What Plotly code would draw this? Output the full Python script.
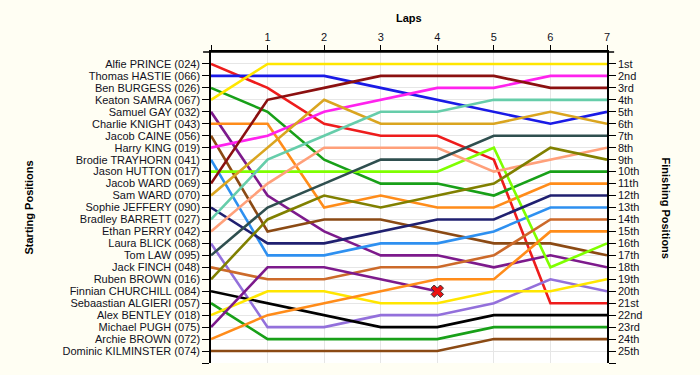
import plotly.graph_objects as go

laps = [0, 1, 2, 3, 4, 5, 6, 7]

drivers = [
    "Alfie PRINCE (024)", "Thomas HASTIE (066)", "Ben BURGESS (026)", "Keaton SAMRA (067)",
    "Samuel GAY (032)", "Charlie KNIGHT (043)", "Jacob CAINE (056)", "Harry KING (019)",
    "Brodie TRAYHORN (041)", "Jason HUTTON (017)", "Jacob WARD (069)", "Sam WARD (070)",
    "Sophie JEFFERY (090)", "Bradley BARRETT (027)", "Ethan PERRY (042)", "Laura BLICK (068)",
    "Tom LAW (095)", "Jack FINCH (048)", "Ruben BROWN (016)", "Finnian CHURCHILL (084)",
    "Sebaastian ALGIERI (057)", "Alex BENTLEY (018)", "Michael PUGH (075)", "Archie BROWN (072)",
    "Dominic KILMINSTER (074)",
]

positions = [
    [1, 3, 6, 7, 7, 9, 21, 21],
    [2, 2, 2, 3, 4, 5, 6, 5],
    [3, 5, 9, 11, 11, 12, 10, 10],
    [4, 1, 1, 1, 1, 1, 1, 1],
    [5, 12, 15, 17, 17, 18, 17, 18],
    [6, 6, 13, 12, 13, 13, 11, 11],
    [7, 15, 14, 14, 15, 16, 16, 17],
    [8, 7, 5, 4, 3, 3, 2, 2],
    [9, 17, 17, 16, 16, 15, 13, 13],
    [10, 10, 10, 10, 10, 8, 18, 16],
    [11, 4, 3, 2, 2, 2, 3, 3],
    [12, 8, 4, 6, 6, 6, 5, 6],
    [13, 16, 16, 15, 14, 14, 12, 12],
    [14, 9, 7, 5, 5, 4, 4, 4],
    [15, 11, 8, 8, 8, 10, 9, 8],
    [16, 23, 23, 22, 22, 21, 19, 20],
    [17, 13, 11, 9, 9, 7, 7, 7],
    [18, 19, 19, 18, 18, 17, 14, 14],
    [19, 14, 12, 13, 12, 11, 8, 9],
    [20, 21, 22, 23, 23, 22, 22, 22],
    [21, 24, 24, 24, 24, 23, 23, 23],
    [22, 20, 20, 21, 21, 20, 20, 19],
    [23, 18, 18, 19, 20],
    [24, 22, 21, 20, 19, 19, 15, 15],
    [25, 25, 25, 25, 25, 24, 24, 24],
]

retired = [False] * 25
retired[22] = True

colors = [
    "#EE1C1C", "#1A1AE6", "#18A018", "#FFE600", "#7D1A8C", "#FF8C1A", "#8B4A14", "#FF22EE",
    "#2E90F0", "#7FFF00", "#8B1010", "#DAA520", "#202070", "#66CDAA", "#FFA07A", "#9370DB",
    "#2F4F4F", "#CC6A2A", "#808000", "#000000", "#18A018", "#FFE600", "#7D1A8C", "#FF8C1A",
    "#8B4A14",
]

finish_labels = ["1st", "2nd", "3rd"] + [f"{i}th" for i in range(4, 21)] + ["21st", "22nd", "23rd", "24th", "25th"]

PAPER = "#FFFEF3"

fig = go.Figure()
for name, pos, col, ret in zip(drivers, positions, colors, retired):
    fig.add_trace(go.Scatter(
        x=laps[:len(pos)], y=pos, mode="lines", name=name,
        line=dict(color=col, width=2.6), hoverinfo="skip", showlegend=False,
    ))
    if ret:
        fig.add_trace(go.Scatter(
            x=[laps[len(pos) - 1]], y=[pos[-1]], mode="markers",
            marker=dict(symbol="x", size=11, color="#EE1111", line=dict(color="#333333", width=1)),
            hoverinfo="skip", showlegend=False,
        ))

# dummy trace for right axis
fig.add_trace(go.Scatter(x=[laps[-1]], y=[1], yaxis="y2", mode="markers",
                         marker=dict(opacity=0), hoverinfo="skip", showlegend=False))

font = dict(family="Liberation Sans, Arial, sans-serif", size=11, color="#111122")

fig.update_layout(
    width=700, height=375,
    margin=dict(l=211, r=93, t=52, b=12, autoexpand=False),
    paper_bgcolor=PAPER,
    plot_bgcolor="#FFFFFF",
    font=font,
    xaxis=dict(
        side="top", range=[0, 7], tickvals=laps, ticktext=[""] + [str(v) for v in laps[1:]],
        showline=True, linecolor="#000000", linewidth=1.5, ticks="outside", ticklen=5,
        tickcolor="#000000", showgrid=True, gridcolor="#E6E6E6", zeroline=False,
    ),
    yaxis=dict(
        range=[26, 0], tickvals=list(range(1, 27)), ticktext=drivers + [""],
        showline=True, linecolor="#000000", linewidth=1.5, ticks="outside", ticklen=7,
        tickcolor="#000000", showgrid=True, gridcolor="#E6E6E6", zeroline=False,
    ),
    yaxis2=dict(
        range=[26, 0], overlaying="y", side="right", tickvals=list(range(1, 27)),
        ticktext=finish_labels + [""], showline=True, linecolor="#000000", linewidth=1.5,
        ticks="outside", ticklen=7, tickcolor="#000000", showgrid=False, zeroline=False,
    ),
    annotations=[
        dict(text="<b>Laps</b>", xref="paper", yref="paper", x=0.5, y=1, yshift=34,
             xanchor="center", yanchor="middle",
             showarrow=False, font=dict(size=11, color="#000000")),
        dict(text="<b>Starting Positions</b>", xref="paper", yref="paper", x=0, xshift=-183, y=0.5,
             xanchor="center", yanchor="middle",
             textangle=-90, showarrow=False, font=dict(size=11, color="#000000")),
        dict(text="<b>Finishing Positions</b>", xref="paper", yref="paper", x=1, xshift=59, y=0.5,
             xanchor="center", yanchor="middle",
             textangle=90, showarrow=False, font=dict(size=11, color="#000000")),
    ],
    shapes=[
        dict(type="line", xref="paper", yref="paper", x0=-0.02, x1=1.018, y0=1, y1=1,
             line=dict(color="#000000", width=1.5)),
    ],
)

fig.write_html(
    "out.html",
    config={"displayModeBar": False},
    post_script="document.body.style.margin='0';document.body.style.background='" + PAPER + "';",
)
